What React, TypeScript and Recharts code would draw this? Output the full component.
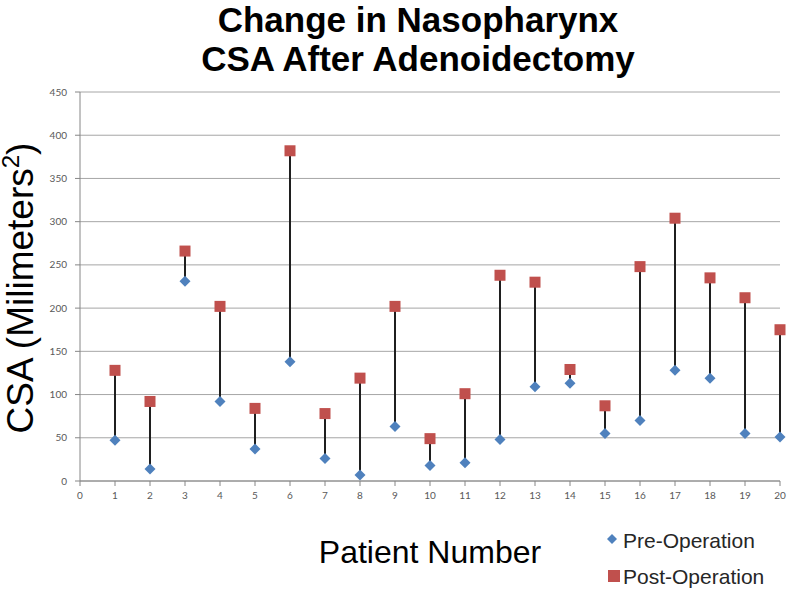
import { ComposedChart, Scatter, ErrorBar, XAxis, YAxis, CartesianGrid } from 'recharts';

const patients = [1, 2, 3, 4, 5, 6, 7, 8, 9, 10, 11, 12, 13, 14, 15, 16, 17, 18, 19, 20];
const preOp = [47, 14, 231, 92, 37, 138, 26, 7, 63, 18, 21, 48, 109, 113, 55, 70, 128, 119, 55, 51];
const postOp = [128, 92, 266, 202, 84, 382, 78, 119, 202, 49, 101, 238, 230, 129, 87, 248, 304, 235, 212, 175];
const xTicks = [0, 1, 2, 3, 4, 5, 6, 7, 8, 9, 10, 11, 12, 13, 14, 15, 16, 17, 18, 19, 20];
const yTicks = [0, 50, 100, 150, 200, 250, 300, 350, 400, 450];

const BLUE = '#4F81BD';
const RED = '#C0504D';

const data = patients.map((p, i) => ({
  patient: p,
  pre: preOp[i],
  post: postOp[i],
  // error bar from pre up to post, used to draw the stems
  stem: [0, postOp[i] - preOp[i]],
}));

const Diamond = (props: any) => {
  const { cx, cy } = props;
  if (cx == null || cy == null) return <g />;
  const r = 5.5;
  return <polygon points={`${cx},${cy - r} ${cx + r},${cy} ${cx},${cy + r} ${cx - r},${cy}`} fill={BLUE} />;
};

const Square = (props: any) => {
  const { cx, cy } = props;
  if (cx == null || cy == null) return <g />;
  const s = 11;
  return <rect x={cx - s / 2} y={cy - s / 2} width={s} height={s} fill={RED} />;
};

const Nothing = () => <g />;

const tickStyle = { fill: '#595959', fontSize: 10, fontFamily: 'Lato, "Liberation Sans", sans-serif' };

export default function App() {
  return (
    <div style={{ position: 'relative', width: 800, height: 595, background: '#fff', fontFamily: '"Liberation Sans", Arial, sans-serif' }}>
      <style>{`body{margin:0}`}</style>
      <div
        style={{
          position: 'absolute',
          top: 0,
          left: 0,
          width: 836,
          textAlign: 'center',
          fontSize: 35,
          lineHeight: '39px',
          fontWeight: 'bold',
          color: '#000',
        }}
      >
        Change in Nasopharynx
        <br />
        CSA After Adenoidectomy
      </div>

      <div
        style={{
          position: 'absolute',
          left: 21 - 200,
          top: 288 - 19,
          width: 400,
          height: 38,
          lineHeight: '38px',
          fontSize: 37,
          textAlign: 'center',
          whiteSpace: 'nowrap',
          transform: 'rotate(-90deg)',
          color: '#000',
        }}
      >
        CSA (Milimeters<span style={{ fontSize: '0.65em', position: 'relative', top: '-0.6em' }}>2</span>)
      </div>

      <div
        style={{
          position: 'absolute',
          left: 230,
          top: 536,
          width: 400,
          textAlign: 'center',
          fontSize: 32,
          lineHeight: '32px',
          color: '#000',
        }}
      >
        Patient Number
      </div>

      <div style={{ position: 'absolute', left: 605, top: 525, fontSize: 21, lineHeight: '21px', color: '#262626' }}>
        <div style={{ display: 'flex', alignItems: 'center', height: 30 }}>
          <svg width={16} height={16} style={{ marginRight: 2 }}>
            <polygon points="7,2 12,7 7,12 2,7" fill={BLUE} />
          </svg>
          <span>Pre-Operation</span>
        </div>
        <div style={{ display: 'flex', alignItems: 'center', height: 30, marginTop: 6 }}>
          <svg width={16} height={16} style={{ marginRight: 2 }}>
            <rect x={3} y={2} width={12} height={12} fill={RED} />
          </svg>
          <span>Post-Operation</span>
        </div>
      </div>

      <div style={{ position: 'absolute', left: 0, top: 0 }}>
        <ComposedChart width={800} height={595} data={data} margin={{ top: 92, right: 20, bottom: 84, left: 0 }}>
          <CartesianGrid vertical={false} stroke="#a6a6a6" />
          <XAxis
            dataKey="patient"
            type="number"
            domain={[0, 20]}
            ticks={xTicks}
            interval={0}
            height={30}
            tick={tickStyle}
            tickSize={5}
            tickMargin={6}
            axisLine={{ stroke: '#868686' }}
            tickLine={{ stroke: '#868686' }}
          />
          <YAxis
            type="number"
            domain={[0, 450]}
            ticks={yTicks}
            interval={0}
            width={80}
            tick={tickStyle}
            tickSize={5}
            tickMargin={8}
            axisLine={{ stroke: '#868686' }}
            tickLine={{ stroke: '#868686' }}
          />
          <Scatter dataKey="pre" shape={Nothing} isAnimationActive={false} legendType="none">
            <ErrorBar dataKey="stem" direction="y" width={0} stroke="#1f1f1f" strokeWidth={2} isAnimationActive={false} />
          </Scatter>
          <Scatter dataKey="post" shape={Square} isAnimationActive={false} />
          <Scatter dataKey="pre" shape={Diamond} isAnimationActive={false} />
        </ComposedChart>
      </div>
    </div>
  );
}
